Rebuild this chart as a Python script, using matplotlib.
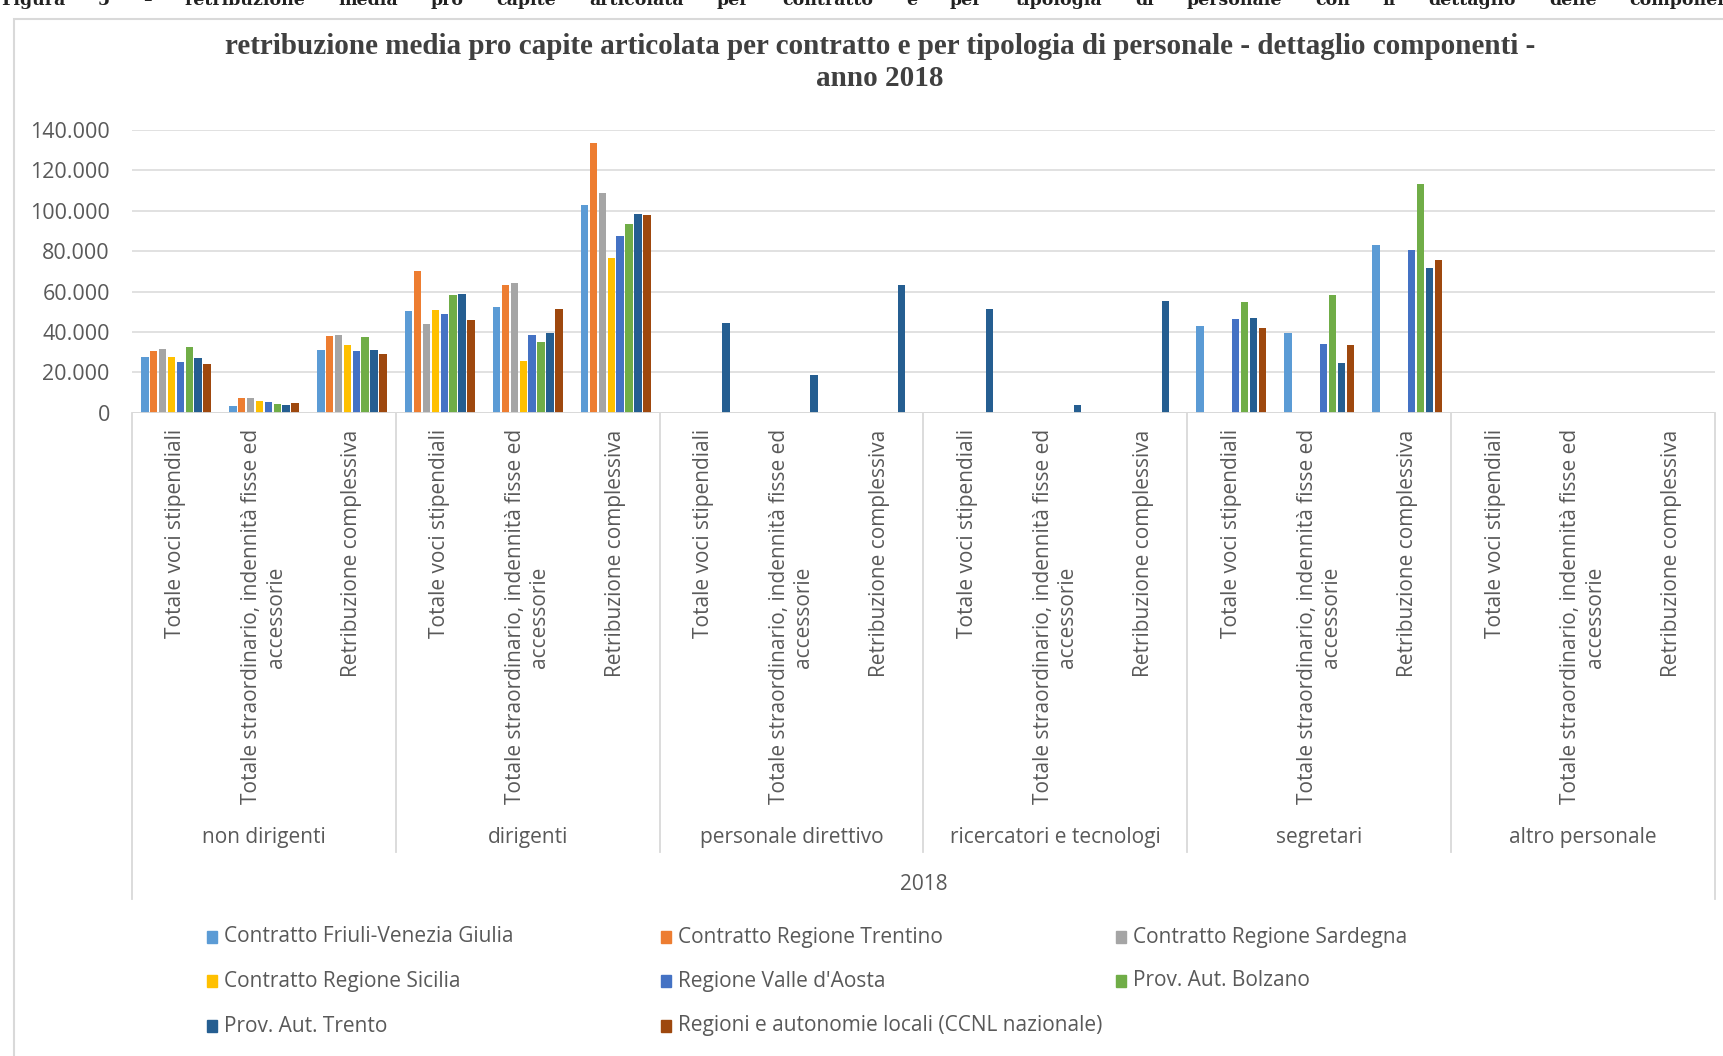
import matplotlib
matplotlib.use("Agg")
import numpy as np
import matplotlib.pyplot as plt
import matplotlib.transforms as mtransforms
from matplotlib.patches import Rectangle
from matplotlib.ticker import FuncFormatter

# ── dati ─────────────────────────────────────────────────
gruppi = ["non dirigenti", "dirigenti", "personale direttivo",
          "ricercatori e tecnologi", "segretari", "altro personale"]
voci = ["Totale voci stipendiali",
        "Totale straordinario, indennità fisse ed\naccessorie",
        "Retribuzione complessiva"]
anno = "2018"

serie = ["Contratto Friuli-Venezia Giulia", "Contratto Regione Trentino",
         "Contratto Regione Sardegna", "Contratto Regione Sicilia",
         "Regione Valle d'Aosta", "Prov. Aut. Bolzano",
         "Prov. Aut. Trento", "Regioni e autonomie locali (CCNL nazionale)"]

# 18 valori per serie: 6 gruppi x 3 voci
fvg      = [27600, 3150, 31000, 50200, 52200, 102800, 0, 0, 0, 0, 0, 0, 43100, 39450, 82900, 0, 0, 0]
trentino = [30400, 7300, 38000, 70000, 63400, 133700, 0, 0, 0, 0, 0, 0, 0, 0, 0, 0, 0, 0]
sardegna = [31400, 7100, 38500, 43900, 64400, 108600, 0, 0, 0, 0, 0, 0, 0, 0, 0, 0, 0, 0]
sicilia  = [27400, 5800, 33400, 50700, 25600, 76750, 0, 0, 0, 0, 0, 0, 0, 0, 0, 0, 0, 0]
vda      = [24950, 5300, 30550, 49000, 38300, 87650, 0, 0, 0, 0, 0, 0, 46250, 34150, 80550, 0, 0, 0]
bolzano  = [32700, 4300, 37500, 58300, 35000, 93400, 0, 0, 0, 0, 0, 0, 54650, 58100, 113100, 0, 0, 0]
trento   = [26900, 3800, 30900, 58600, 39300, 98200, 44250, 18650, 63200, 51200, 3800, 55150, 46900, 24600, 71650, 0, 0, 0]
ccnl     = [23950, 4800, 28900, 45900, 51300, 97900, 0, 0, 0, 0, 0, 0, 42100, 33500, 75750, 0, 0, 0]
valori = [fvg, trentino, sardegna, sicilia, vda, bolzano, trento, ccnl]

colori = ["#5B9BD5", "#ED7D31", "#A5A5A5", "#FFC000",
          "#4472C4", "#70AD47", "#255E91", "#9E480E"]

# ── stile ────────────────────────────────────────────────
W, H = 1724, 1056
GRIGIO = "#D9D9D9"
TESTO = "#595959"
plt.rcParams["font.family"] = ["Open Sans", "DejaVu Sans"]

fig = plt.figure(figsize=(W / 100, H / 100), dpi=100)


def fx(x):
    return x / W


def fy(y):
    return 1 - y / H


# cornice del grafico (taglia fuori a destra e in basso)
fig.patches.append(Rectangle((fx(14), -0.1), 2, fy(19) + 0.1, transform=fig.transFigure,
                             fill=False, edgecolor=GRIGIO, lw=1.5))

# didascalia del documento, tagliata in alto, giustificata
parole = ("Figura 5 – retribuzione media pro capite articolata per contratto e per "
          "tipologia di personale con il dettaglio delle componenti").split()
renderer = fig.canvas.get_renderer()
tt = [fig.text(0, fy(5), p, fontsize=12.5, fontweight="bold", family="DejaVu Serif",
               color="#222222", va="baseline") for p in parole]
larg = [t.get_window_extent(renderer).width for t in tt]
x0, x1 = 1, 1745
gap = (x1 - x0 - sum(larg)) / (len(parole) - 1)
xc = x0
for t, w in zip(tt, larg):
    t.set_x(fx(xc))
    xc += w + gap

# titolo
fig.text(fx(880), fy(46), "retribuzione media pro capite articolata per contratto e per tipologia di personale - dettaglio componenti -",
         ha="center", va="center", fontsize=21, fontweight="bold", family="Liberation Serif", color="#404040")
fig.text(fx(880), fy(79), "anno 2018", ha="center", va="center", fontsize=21,
         fontweight="bold", family="Liberation Serif", color="#404040")

# ── assi ─────────────────────────────────────────────────
left, right, top, bottom = 132, 1715, 130, 412.7
ax = fig.add_axes([fx(left), fy(bottom), (right - left) / W, (bottom - top) / H])
ncat = len(gruppi) * len(voci)
x = np.arange(ncat) + 0.5
passo = 0.101
for i, (nome, vals, col) in enumerate(zip(serie, valori, colori)):
    off = (i - (len(serie) - 1) / 2) * passo
    ax.bar(x + off, vals, width=passo * 0.84, color=col, zorder=3, label=nome)

ax.set_xlim(0, ncat)
ax.set_ylim(0, 140000)
ax.set_yticks(np.arange(0, 140001, 20000))
ax.yaxis.set_major_formatter(FuncFormatter(lambda v, p: f"{int(v):,}".replace(",", ".")))
ax.grid(axis="y", color=GRIGIO, lw=1.1, zorder=0)
for s in ax.spines.values():
    s.set_visible(False)
ax.axhline(0, color=GRIGIO, lw=1.3, zorder=4)
ax.tick_params(axis="y", length=0, pad=16, labelsize=15.5, labelcolor=TESTO)

ax.set_xticks(x)
ax.set_xticklabels(voci * len(gruppi), rotation=90, ha="center", va="top",
                   multialignment="center", fontsize=15, color=TESTO)
ax.tick_params(axis="x", length=0, pad=12)

# etichette multilivello
trans = mtransforms.blended_transform_factory(ax.transData, ax.transAxes)
alt = bottom - top
for g in range(len(gruppi) + 1):
    y_fine = 899 if g in (0, len(gruppi)) else 852
    ax.plot([g * 3, g * 3], [0, -(y_fine - bottom) / alt], transform=trans,
            color=GRIGIO, lw=1.3, clip_on=False)
for g, nome in enumerate(gruppi):
    ax.text(g * 3 + 1.5, -(838 - bottom) / alt, nome, transform=trans, ha="center",
            va="center", fontsize=15, color=TESTO)
ax.text(ncat / 2, -(884 - bottom) / alt, anno, transform=trans, ha="center",
        va="center", fontsize=15, color=TESTO)

# legenda manuale (3 colonne)
col_x = [212, 666, 1121]
row_y = [937, 981, 1026]
for i, (nome, col) in enumerate(zip(serie, colori)):
    cx, cy = col_x[i % 3], row_y[i // 3]
    fig.patches.append(Rectangle((fx(cx - 5), fy(cy + 6)), 10 / W, 12 / H,
                                 transform=fig.transFigure, color=col))
    fig.text(fx(cx + 12), fy(cy), nome, ha="left", va="center", fontsize=15,
             color=TESTO)

fig.savefig("out.png", dpi=100)
